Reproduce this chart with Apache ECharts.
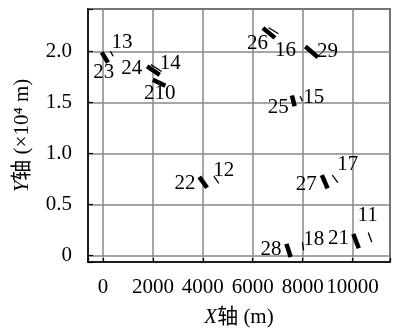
<!DOCTYPE html>
<html><head><meta charset="utf-8">
<script src="https://cdn.jsdelivr.net/npm/echarts@6/dist/echarts.min.js"></script>
<style>html,body{margin:0;padding:0;background:#fff}#c{width:393px;height:333px}</style>
</head><body><div id="c"></div>
<script>
// Thick segments (stations 2x): [x1, y1, x2, y2] in metres
const thickNames = ['23','24','210','26','29','25','22','27','28','21'];
const thickSegs = [
  [-50,19900, 200,18900],
  [1770,18530, 2270,17690],
  [2000,17210, 2500,16630],
  [6410,22280, 6890,21320],
  [8110,20480, 8610,19420],
  [7570,15670, 7680,14620],
  [3860,7690, 4170,6630],
  [8770,7860, 9000,6570],
  [7350,1130, 7520,-160],
  [10030,2090, 10250,700]
];
// Thin segments (stations 1x)
const thinNames = ['13','14','16','15','12','17','18','11'];
const thinSegs = [
  [300,20000, 410,19520],
  [1920,18700, 2350,18030],
  [6640,22310, 7030,21730],
  [7900,15600, 7990,15120],
  [4440,7760, 4640,7050],
  [9190,7860, 9410,7120],
  [7990,1280, 8040,480],
  [10630,2240, 10770,1280]
];
// Station label positions (label, x, y)
const labelNames = ['13','23','24','14','210','26','16','29','25','15','22','12','27','17','28','18','21','11'];
const labelX = [762,27,1149,2695,2270,6187,7309,9000,7026,8446,3287,4834,8148,9811,6736,8446,9436,10603];
const labelY = [20865,17884,18365,18845,15865,20768,20095,20000,14519,15480,7048,8336,6971,8894,577,1606,1635,3942];
// Axis ranges / ticks
const xRange = [-600, 11500];
const yRange = [-650, 24150];
const xTickStep = 2000;
const yTickStep = 5000;

const serif = '"Liberation Serif", "DejaVu Serif", "Noto Sans CJK SC", serif';
const chart = echarts.init(document.getElementById('c'));
chart.setOption({
  animation: false,
  backgroundColor: '#fff',
  grid: {left: 88, top: 9, right: -8, bottom: 66, show: true, borderColor: '#000', borderWidth: 1.5, backgroundColor: 'transparent'},
  xAxis: {
    type: 'value', min: xRange[0], max: xRange[1],
    name: '{i|X}轴 (m)', nameLocation: 'middle', nameGap: 45,
    nameTextStyle: {color: '#000', fontSize: 21, fontFamily: serif, rich: {i: {fontStyle: 'italic', fontSize: 21, fontFamily: serif, color: '#000'}}},
    axisLine: {show: true, onZero: false, lineStyle: {color: '#000', width: 1.5}},
    axisTick: {show: true, inside: true, length: 4, lineStyle: {color: '#000', width: 1.2}},
    axisLabel: {color: '#000', fontSize: 21, fontFamily: serif, margin: 15,
      formatter: v => (Math.abs(v % xTickStep) < 1e-6 ? String(v) : '')},
    splitLine: {show: true, lineStyle: {color: '#888', width: 1.5}}
  },
  yAxis: {
    type: 'value', min: yRange[0], max: yRange[1],
    name: '{i|Y}轴 (×10⁴ m)', nameLocation: 'middle', nameGap: 55,
    nameTextStyle: {color: '#000', fontSize: 21, fontFamily: serif, rich: {i: {fontStyle: 'italic', fontSize: 21, fontFamily: serif, color: '#000'}}},
    axisLine: {show: true, onZero: false, lineStyle: {color: '#000', width: 1.5}},
    axisTick: {show: true, inside: true, length: 5, lineStyle: {color: '#000', width: 1.2}},
    axisLabel: {color: '#000', fontSize: 21, fontFamily: serif, margin: 16,
      formatter: v => (Math.abs(v % yTickStep) < 1e-6 ? (v === 0 ? '0' : (v / 10000).toFixed(1)) : '')},
    splitLine: {show: true, lineStyle: {color: '#888', width: 1.5}}
  },
  series: [
    {type: 'lines', coordinateSystem: 'cartesian2d', silent: true,
      lineStyle: {color: '#000', width: 4.5, opacity: 1, cap: 'butt'},
      data: thickSegs.map((s, i) => ({name: thickNames[i], coords: [[s[0], s[1]], [s[2], s[3]]]}))},
    {type: 'lines', coordinateSystem: 'cartesian2d', silent: true,
      lineStyle: {color: '#000', width: 1.3, opacity: 1},
      data: thinSegs.map((s, i) => ({name: thinNames[i], coords: [[s[0], s[1]], [s[2], s[3]]]}))},
    {type: 'custom', coordinateSystem: 'cartesian2d', silent: true, z: 5,
      data: labelNames.map((n, i) => [labelX[i], labelY[i]]),
      renderItem: (params, api) => {
        const p = api.coord([api.value(0), api.value(1)]);
        return {type: 'text', x: p[0], y: p[1],
          style: {text: labelNames[params.dataIndex], fill: '#000', fontSize: 21, fontFamily: serif,
            align: 'center', verticalAlign: 'middle'}};
      }}
  ]
});
</script></body></html>
